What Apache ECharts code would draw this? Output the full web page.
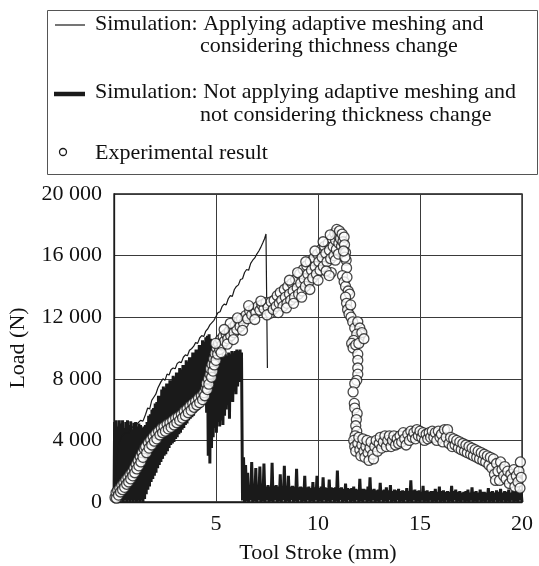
<!DOCTYPE html>
<html>
<head>
<meta charset="utf-8">
<title>Load vs Tool Stroke</title>
<script src="https://cdn.jsdelivr.net/npm/echarts@6/dist/echarts.min.js"></script>
<style>
  html, body { margin: 0; padding: 0; background: #fff; }
  #chart { width: 539px; height: 566px; }
</style>
</head>
<body>
<div id="chart"></div>
<script>
// Axis ticks
const strokeTicks = [0, 5, 10, 15, 20];
const loadTicks = [0, 4000, 8000, 12000, 16000, 20000];

const seriesNames = [
  'Simulation: Applying adaptive meshing and considering thichness change',
  'Simulation: Not applying adaptive meshing and not considering thickness change',
  'Experimental result'
];

// Simulation with adaptive meshing: [stroke (mm), load (N)]
const adaptiveSim = [
  [0.00,200],[0.08,1800],[0.15,3000],[0.25,3900],[0.40,4300],[0.55,4500],[0.70,4450],[0.85,4800],
  [1.00,4950],[1.15,5100],[1.30,5300],[1.42,5250],[1.55,5700],[1.65,6100],[1.75,6050],[1.85,6600],
  [1.95,6800],[2.05,7000],[2.15,7400],[2.22,7300],[2.30,7800],[2.40,8000],[2.50,7900],[2.60,8300],
  [2.70,8250],[2.80,8600],[2.90,8700],[3.00,8650],[3.10,9000],[3.20,9100],[3.30,9050],[3.40,9400],
  [3.50,9550],[3.60,9500],[3.70,9850],[3.80,9950],[3.90,10100],[4.00,10350],[4.10,10300],[4.20,10650],
  [4.30,10800],[4.40,10750],[4.50,11100],[4.60,11250],[4.70,11500],[4.80,11650],[4.90,11800],[5.00,12050],
  [5.10,12300],[5.20,12350],[5.30,12700],[5.40,12850],[5.50,12800],[5.60,13200],[5.70,13400],[5.80,13350],
  [5.90,13800],[6.00,14000],[6.10,14100],[6.20,14450],[6.30,14500],[6.40,14900],[6.50,15100],[6.60,15050],
  [6.70,15500],[6.80,15700],[6.90,15850],[7.00,16100],[7.10,16300],[7.20,16550],[7.30,16850],[7.38,17100],
  [7.45,17400],[7.52,8700]
];

// Simulation without adaptive meshing (strongly oscillating): [stroke (mm), load (N)]
const rigidSim = [
  [0.00,0],[0.03,5200],[0.06,100],[0.10,5300],[0.14,0],[0.18,4900],[0.22,200],[0.26,5300],
  [0.30,0],[0.34,5100],[0.38,100],[0.42,5300],[0.46,0],[0.50,4800],[0.54,150],[0.58,5200],
  [0.62,0],[0.66,5300],[0.70,100],[0.74,5000],[0.78,0],[0.82,5250],[0.86,100],[0.90,4700],
  [0.94,0],[0.98,5150],[1.02,100],[1.06,5200],[1.10,0],[1.14,4900],[1.18,100],[1.22,5100],
  [1.26,0],[1.30,5000],[1.34,100],[1.38,4800],[1.42,0],[1.46,4900],
  [1.50,200],[1.54,5000],[1.58,500],[1.62,5200],[1.66,800],[1.70,5600],[1.74,1000],[1.78,5700],
  [1.82,1300],[1.86,6000],[1.90,1500],[1.94,6100],[1.98,1700],[2.02,6400],[2.06,1900],[2.10,6500],
  [2.14,2200],[2.18,6900],[2.22,2400],[2.26,6900],[2.30,2600],[2.34,7300],[2.38,2800],[2.42,7500],
  [2.46,3000],[2.50,7400],[2.54,3100],[2.58,7700],[2.62,3300],[2.66,7700],[2.70,3500],[2.74,7900],
  [2.78,3700],[2.82,7900],[2.86,3800],[2.90,8200],[2.94,3900],[2.98,8100],[3.02,4100],[3.06,8400],
  [3.10,4200],[3.14,8400],[3.18,4400],[3.22,8700],[3.26,4500],[3.30,8600],[3.34,4700],[3.38,8900],
  [3.42,4800],[3.46,8900],[3.50,5000],[3.54,9200],[3.58,5100],[3.62,9100],[3.66,5300],[3.70,9400],
  [3.74,5400],[3.78,9400],[3.82,5500],[3.86,9700],[3.90,5600],[3.94,9700],[3.98,5800],[4.02,9900],
  [4.06,5900],[4.10,9900],[4.14,6000],[4.18,10200],[4.22,6100],[4.26,10200],[4.30,6300],[4.34,10500],
  [4.38,6400],[4.42,10400],[4.46,6500],[4.50,10700],[4.54,5800],[4.58,10800],[4.62,3000],[4.66,10900],
  [4.70,2500],[4.74,10600],[4.78,3500],[4.82,9700],
  [4.86,4200],[4.90,9200],[4.94,4800],[4.98,9300],[5.02,4500],[5.06,9100],[5.10,5200],[5.14,9400],
  [5.18,4900],[5.22,9300],[5.26,5300],[5.30,9500],[5.34,5000],[5.38,9400],[5.42,5600],[5.46,9600],
  [5.50,6000],[5.54,9500],[5.58,6400],[5.62,9700],[5.66,5400],[5.70,9600],[5.74,6800],[5.78,9800],
  [5.82,6500],[5.86,9700],[5.90,7200],[5.94,9800],[5.98,7000],[6.02,9900],[6.06,7500],[6.10,9800],
  [6.14,7800],[6.18,9900],[6.22,8200],[6.25,9700],[6.30,100],
  [6.35,2900],[6.40,0],[6.45,2400],[6.50,50],[6.55,1900],[6.60,0],[6.65,1000],[6.70,100],
  [6.75,2600],[6.80,0],[6.85,1050],[6.90,50],[6.95,2200],[7.00,0],[7.05,1000],[7.10,100],
  [7.15,2300],[7.20,0],[7.25,1050],[7.30,50],[7.35,2500],[7.40,0],[7.45,1000],[7.50,100],
  [7.55,1100],[7.60,0],[7.65,1000],[7.70,50],[7.75,2550],[7.80,0],[7.85,1050],[7.90,100],
  [7.95,1100],[8.00,0],[8.05,1000],[8.10,50],[8.15,1800],[8.20,0],[8.25,1000],[8.30,100],
  [8.35,2350],[8.40,0],[8.45,1050],[8.50,50],[8.55,1700],[8.60,0],[8.65,1000],[8.70,100],
  [8.75,1050],[8.80,0],[8.85,1000],[8.90,50],[8.95,2150],[9.00,0],[9.05,950],[9.10,100],
  [9.15,1000],[9.20,0],[9.25,950],[9.30,50],[9.35,1700],[9.40,0],[9.45,950],[9.50,100],
  [9.55,1000],[9.60,0],[9.65,900],[9.70,50],[9.75,1300],[9.80,0],[9.85,950],[9.90,100],
  [9.95,1700],[10.00,0],[10.05,900],[10.10,50],[10.15,1000],[10.20,0],[10.25,1600],[10.30,100],
  [10.35,950],[10.40,0],[10.45,900],[10.50,50],[10.55,1450],[10.60,0],[10.65,950],[10.70,100],
  [10.75,900],[10.80,0],[10.85,950],[10.90,50],[10.95,2050],[11.00,0],[11.05,900],[11.10,100],
  [11.15,950],[11.20,0],[11.25,850],[11.30,50],[11.35,1200],[11.40,0],[11.45,900],[11.50,100],
  [11.55,850],[11.60,0],[11.65,900],[11.70,50],[11.75,1000],[11.80,0],[11.85,850],[11.90,100],
  [11.95,800],[12.00,0],[12.05,1500],[12.10,50],[12.15,850],[12.20,0],[12.25,850],[12.30,100],
  [12.35,800],[12.40,0],[12.45,1000],[12.50,50],[12.55,1600],[12.60,0],[12.65,800],[12.70,100],
  [12.75,850],[12.80,0],[12.85,750],[12.90,50],[12.95,800],[13.00,0],[13.05,1250],[13.10,100],
  [13.15,750],[13.20,0],[13.25,800],[13.30,50],[13.35,950],[13.40,0],[13.45,750],[13.50,100],
  [13.55,1100],[13.60,0],[13.65,700],[13.70,50],[13.75,800],[13.80,0],[13.85,750],[13.90,100],
  [13.95,850],[14.00,0],[14.05,700],[14.10,50],[14.15,750],[14.20,0],[14.25,700],[14.30,100],
  [14.35,900],[14.40,0],[14.45,700],[14.50,50],[14.55,1400],[14.60,0],[14.65,750],[14.70,100],
  [14.75,800],[14.80,0],[14.85,700],[14.90,50],[14.95,750],[15.00,0],[15.05,650],[15.10,100],
  [15.15,1050],[15.20,0],[15.25,700],[15.30,50],[15.35,750],[15.40,0],[15.45,650],[15.50,100],
  [15.55,700],[15.60,0],[15.65,700],[15.70,50],[15.75,850],[15.80,0],[15.85,650],[15.90,100],
  [15.95,1000],[16.00,0],[16.05,700],[16.10,50],[16.15,750],[16.20,0],[16.25,650],[16.30,100],
  [16.35,700],[16.40,0],[16.45,650],[16.50,50],[16.55,1050],[16.60,0],[16.65,700],[16.70,100],
  [16.75,800],[16.80,0],[16.85,650],[16.90,50],[16.95,700],[17.00,0],[17.05,600],[17.10,100],
  [17.15,650],[17.20,0],[17.25,700],[17.30,50],[17.35,800],[17.40,0],[17.45,600],[17.50,100],
  [17.55,950],[17.60,0],[17.65,650],[17.70,50],[17.75,700],[17.80,0],[17.85,600],[17.90,100],
  [17.95,800],[18.00,0],[18.05,650],[18.10,50],[18.15,650],[18.20,0],[18.25,600],[18.30,100],
  [18.35,900],[18.40,0],[18.45,650],[18.50,50],[18.55,700],[18.60,0],[18.65,600],[18.70,100],
  [18.75,750],[18.80,0],[18.85,650],[18.90,50],[18.95,850],[19.00,0],[19.05,600],[19.10,100],
  [19.15,700],[19.20,0],[19.25,650],[19.30,50],[19.35,800],[19.40,0],[19.45,600],[19.50,100],
  [19.55,750],[19.60,0],[19.65,650],[19.70,50],[19.75,950],[19.80,0],[19.85,700],[19.90,100],
  [19.95,800],[20.00,0]
];

// Measured load: [stroke (mm), load (N)]
const experiment = [
  [0.05,300],[0.10,600],[0.12,250],[0.18,750],[0.22,450],[0.28,900],[0.32,650],[0.38,1100],
  [0.42,800],[0.48,1250],[0.52,950],[0.58,1450],[0.62,1150],[0.68,1600],[0.72,1300],[0.78,1800],
  [0.82,1500],[0.88,1950],[0.92,1700],[0.98,2200],[1.02,1900],[1.08,2450],[1.12,2150],[1.18,2700],
  [1.22,2350],[1.28,2950],[1.32,2600],[1.38,3200],[1.42,2900],[1.48,3450],
  [1.55,3600],[1.60,3200],[1.68,3850],[1.72,3500],[1.80,4050],[1.85,3700],[1.92,4250],[1.98,3950],
  [2.05,4450],[2.10,4100],[2.18,4600],[2.25,4350],[2.32,4800],[2.38,4500],[2.45,4900],[2.52,4600],
  [2.60,5050],[2.66,4750],[2.74,5150],[2.80,4850],[2.88,5300],[2.95,5000],[3.02,5450],[3.08,5150],
  [3.15,5550],[3.22,5300],[3.30,5700],[3.36,5450],[3.44,5900],[3.50,5600],[3.58,6050],[3.64,5800],
  [3.72,6250],[3.78,5950],[3.86,6400],[3.92,6150],[4.00,6550],[4.06,6300],[4.14,6750],[4.20,6450],
  [4.28,6900],[4.34,6650],
  [4.40,7100],[4.45,6900],[4.50,7400],[4.52,7700],[4.58,7300],[4.62,8000],[4.65,7650],[4.70,8300],
  [4.72,8650],[4.78,8100],[4.80,8950],[4.85,8500],[4.88,9300],[4.92,8900],[4.95,9650],[5.00,9200],
  [5.02,10000],[5.08,9600],[5.12,10300],[5.18,9900],[5.22,10550],[5.30,10200],[5.35,10750],[5.42,10450],
  [5.50,10900],[5.58,10600],[5.65,11100],[5.72,10800],[5.80,11300],[5.88,11000],[5.95,11500],[6.02,11200],
  [6.10,11700],[6.18,11400],[6.25,11900],[6.35,11600],[6.45,12100],[6.55,11900],[6.65,12400],[6.75,12150],
  [6.85,12550],[6.95,12300],[7.05,12700],[7.15,12450],[7.25,12800],[7.35,12550],[7.45,12950],[7.55,12650],
  [7.65,12250],[7.70,13000],
  [5.25,9700],[5.55,10250],[5.85,10550],[5.70,11600],[6.05,11950],[6.30,11150],[6.60,12750],[6.90,11850],
  [7.20,13050],[7.50,12150],[4.98,10300],[5.40,11200],
  [7.80,12500],[7.85,13100],[7.95,12700],[8.00,13400],[8.10,12900],[8.15,13600],[8.22,13100],[8.28,12700],
  [8.35,13800],[8.40,13300],[8.48,12900],[8.52,14000],[8.60,13500],[8.66,13100],[8.72,14200],[8.78,13700],
  [8.85,13300],[8.90,14450],[8.98,13900],[9.05,13500],[9.10,14800],[9.15,14200],[9.22,13700],[9.28,15100],
  [9.32,14500],[9.38,14000],[9.45,15350],[9.50,14800],[9.56,14300],[9.62,15600],[9.68,15050],[9.74,14550],
  [9.80,15850],[9.86,15300],[9.92,14800],[9.98,16100],[10.04,15600],[10.10,15050],[10.15,16400],[10.20,15900],
  [10.26,15300],[10.32,16600],[10.38,16150],[10.44,15600],[10.50,16800],[10.56,16350],[10.62,15800],[10.65,14900],
  [10.68,17100],[10.74,16600],[10.78,16000],[10.82,17450],[10.86,17000],[10.90,16400],[10.92,17700],[10.98,17300],
  [11.02,16800],[11.05,17600],[11.10,17100],[11.15,16600],[11.18,17400],[11.22,16900],[11.28,17200],
  [8.05,12300],[8.45,12600],[8.80,12900],[9.20,13300],[9.60,13800],[10.00,14400],[10.40,15000],[10.55,14700],
  [8.60,14400],[9.00,14900],[9.40,15600],[9.85,16300],[10.25,16900],[10.60,17350],[10.85,15700],[11.00,16100],
  [11.30,16700],[11.35,16200],[11.38,15700],[11.40,15200],[11.32,15900],[11.25,16300],[11.20,14700],[11.28,14300],
  [11.35,14000],[11.42,14600],[11.48,13700],[11.55,13500],[11.35,13300],[11.40,12900],[11.45,12500],[11.52,12200],
  [11.60,12800],[11.62,12000],[11.70,11700],[11.80,11300],[11.95,11700],[12.05,11300],[12.10,10900],[12.00,10600],
  [11.90,10900],[11.75,10500],[11.65,10300],[11.72,10000],[11.85,10200],[12.00,10300],[12.15,11000],[12.25,10600],
  [11.95,9600],[11.95,9200],[11.95,8700],[11.95,8300],[11.90,7900],[11.80,7700],[11.72,7150],[11.78,6400],
  [11.80,6100],[11.92,5750],[11.88,5350],[11.85,4950],[11.90,4600],[11.82,4300],
  [11.75,4000],[11.80,3600],[11.85,3300],[11.95,3800],[12.00,4200],[12.05,3400],[12.10,3000],[12.15,3700],
  [12.20,4100],[12.25,3300],[12.30,2900],[12.35,3600],[12.40,4000],[12.45,3200],[12.50,2700],[12.55,3500],
  [12.60,3900],[12.68,3100],[12.72,2800],[12.78,3600],[12.85,4000],[12.92,3300],[13.00,3800],[13.05,4200],
  [13.12,3500],[13.20,3900],[13.28,4300],[13.35,3600],[13.42,4000],[13.50,4300],[13.58,3600],[13.65,4000],
  [13.72,4300],[13.80,3700],[13.88,4100],[13.95,3800],[14.02,4300],[14.10,3900],[14.18,4500],[14.25,4100],
  [14.32,3700],[14.40,4400],[14.48,4000],[14.55,4600],[14.62,4200],[14.70,4500],[14.78,4100],[14.85,4700],
  [14.92,4300],[15.00,4600],[15.08,4200],[15.15,4500],[15.22,4000],[15.30,4400],[15.38,4100],[15.45,4500],
  [15.52,4200],[15.60,4600],[15.68,4200],[15.75,4500],[15.82,4000],[15.90,4600],[15.98,4200],[16.05,4400],
  [16.12,3900],[16.20,4700],[16.28,4200],[16.35,4700],[16.42,3800],[16.50,4200],[16.58,3600],[16.65,4100],
  [16.72,3700],[16.80,4000],[16.88,3500],[16.95,3900],[17.02,3400],[17.10,3800],[17.18,3300],[17.25,3700],
  [17.32,3200],[17.40,3600],[17.48,3100],[17.55,3500],[17.62,3000],[17.70,3400],[17.78,2900],[17.85,3300],
  [17.92,2800],[18.00,3200],[18.08,2700],[18.15,3100],[18.22,2600],[18.30,3000],[18.38,2400],[18.45,2900],
  [18.52,2200],[18.60,2800],[18.65,1800],[18.70,1400],[18.75,2500],[18.82,2000],[18.90,1400],[18.95,2600],
  [19.02,2100],[19.10,1700],[19.15,2300],[19.22,1500],[19.30,2000],[19.38,1200],[19.45,1800],[19.52,1500],
  [19.60,2100],[19.65,1000],[19.72,1700],[19.80,1300],[19.85,2000],[19.92,2600],[19.96,1600],[19.90,900]
];

const FONT = "'Liberation Serif', 'Times New Roman', serif";
const INK = '#1a1a1a';

function groupThousands(v) {
  return String(v).replace(/\B(?=(\d{3})+(?!\d))/g, ' ');
}

const chart = echarts.init(document.getElementById('chart'), null, { renderer: 'canvas' });

const legendText = {
  fontFamily: FONT, fontSize: 22, fill: '#111', verticalAlign: 'middle', align: 'left'
};

chart.setOption({
  animation: false,
  backgroundColor: '#fff',
  grid: {
    left: 114, right: 17, top: 194, bottom: 64,
    outerBoundsMode: 'none', containLabel: false,
    show: true, borderColor: INK, borderWidth: 1.3, backgroundColor: 'transparent'
  },
  xAxis: {
    type: 'value',
    min: strokeTicks[0], max: strokeTicks[strokeTicks.length - 1], interval: 5,
    name: 'Tool Stroke (mm)', nameLocation: 'middle', nameGap: 40,
    nameTextStyle: { fontFamily: FONT, fontSize: 22, color: '#111' },
    axisLine: { show: true, lineStyle: { color: INK, width: 1.3 } },
    axisTick: { show: false },
    axisLabel: {
      fontFamily: FONT, fontSize: 22, color: '#111', margin: 11,
      formatter: v => (v === 0 ? '' : String(v))
    },
    splitLine: { show: true, lineStyle: { color: '#3a3a3a', width: 1 } }
  },
  yAxis: {
    type: 'value',
    min: loadTicks[0], max: loadTicks[loadTicks.length - 1], interval: 4000,
    name: 'Load (N)', nameLocation: 'middle', nameGap: 85,
    nameTextStyle: { fontFamily: FONT, fontSize: 22, color: '#111' },
    axisLine: { show: true, lineStyle: { color: INK, width: 1.3 } },
    axisTick: { show: false },
    axisLabel: {
      fontFamily: FONT, fontSize: 22, color: '#111', margin: 12,
      formatter: v => groupThousands(v)
    },
    splitLine: { show: true, lineStyle: { color: '#3a3a3a', width: 1 } }
  },
  series: [
    {
      name: seriesNames[1], type: 'line', data: rigidSim, z: 2,
      showSymbol: false, symbol: 'none',
      lineStyle: { color: INK, width: 3 }
    },
    {
      name: seriesNames[0], type: 'line', data: adaptiveSim, z: 3,
      showSymbol: false, symbol: 'none',
      lineStyle: { color: INK, width: 1.2 }
    },
    {
      name: seriesNames[2], type: 'scatter', data: experiment, z: 4,
      symbol: 'circle', symbolSize: 10,
      itemStyle: { color: '#fff', borderColor: INK, borderWidth: 1.3 }
    }
  ],
  // Legend box with the three series keys
  graphic: [
    { type: 'rect', shape: { x: 47.5, y: 10.5, width: 490, height: 164 },
      style: { fill: '#fff', stroke: '#555', lineWidth: 1 } },
    { type: 'line', shape: { x1: 55, y1: 25, x2: 85, y2: 25 },
      style: { stroke: INK, lineWidth: 1.2 } },
    { type: 'text', x: 95, y: 24, style: Object.assign({ text: 'Simulation: Applying adaptive meshing and' }, legendText) },
    { type: 'text', x: 200, y: 46.5, style: Object.assign({ text: 'considering thichness change' }, legendText) },
    { type: 'line', shape: { x1: 54, y1: 94, x2: 85, y2: 94 },
      style: { stroke: INK, lineWidth: 4.5 } },
    { type: 'text', x: 95, y: 92, style: Object.assign({ text: 'Simulation: Not applying adaptive meshing and' }, legendText) },
    { type: 'text', x: 200, y: 115, style: Object.assign({ text: 'not considering thickness change' }, legendText) },
    { type: 'circle', shape: { cx: 63, cy: 152, r: 3.5 },
      style: { fill: '#fff', stroke: INK, lineWidth: 1.3 } },
    { type: 'text', x: 95, y: 153, style: Object.assign({ text: 'Experimental result' }, legendText) }
  ]
});
</script>
</body>
</html>
